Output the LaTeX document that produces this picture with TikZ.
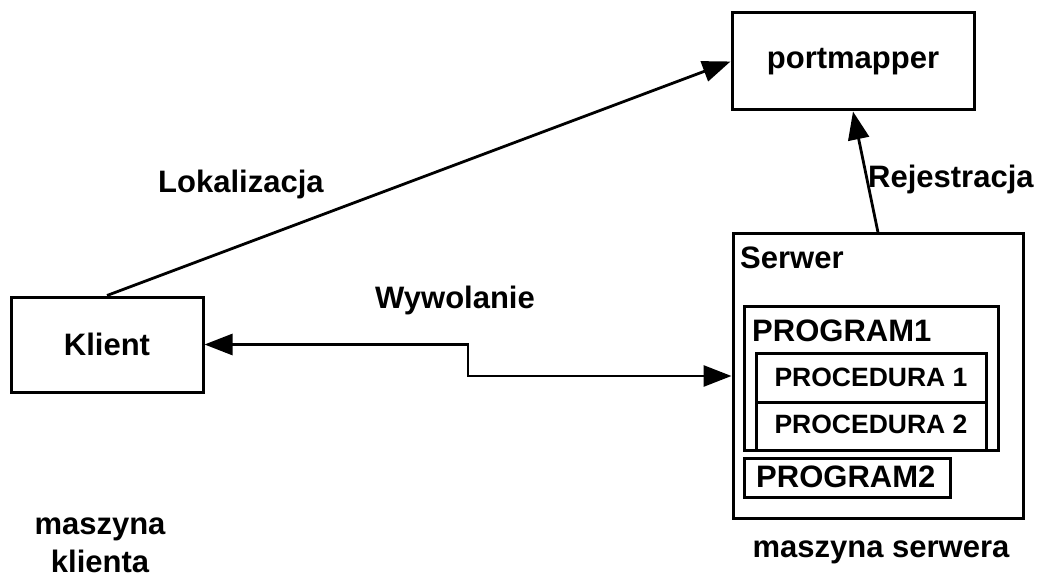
\documentclass[tikz,border=0pt]{standalone}
\usepackage{fontspec}
\setmainfont{Liberation Sans}
\usetikzlibrary{arrows.meta}
\begin{document}
\begin{tikzpicture}[x=1pt,y=-1pt,
  every node/.style={font=\fontsize{31}{38}\selectfont\bfseries, inner sep=0pt},
  box/.style={draw, line width=3pt, rectangle},
  thin box/.style={draw, line width=3pt, rectangle},
  conn/.style={line width=2.8pt, -{Triangle[length=28pt,width=21pt]}},
  both/.style={line width=2.8pt, {Triangle[length=28pt,width=21pt]}-{Triangle[length=28pt,width=21pt]}},
  small/.style={font=\fontsize{26.5}{30}\selectfont\bfseries}]
\useasboundingbox (0,0) rectangle (1039,580);

% portmapper and client
\node[box, minimum width=242pt, minimum height=97pt] (pm) at (853,61.5) {portmapper};
\node[box, minimum width=192pt, minimum height=95pt] (klient) at (107,344.5) {Klient};

% server machine
\node[box, minimum width=290pt, minimum height=284pt] (srv) at (878,376) {};
\node[anchor=base west] (srvlbl) at (740,269) {Serwer};

\node[thin box, minimum width=254pt, minimum height=144pt] (p1) at (871,378) {};
\node[anchor=base west] (p1lbl) at (752,341) {PROGRAM1};

% procedures, sharing the program's bottom edge
\node[thin box, minimum width=230pt, minimum height=49pt] (proc1) at (871,377.5) {};
\node[thin box, minimum width=230pt, minimum height=48pt] (proc2) at (871,426) {};
\node[small, anchor=base] (proc1lbl) at (871,386) {PROCEDURA 1};
\node[small, anchor=base] (proc2lbl) at (871,433) {PROCEDURA 2};

\node[thin box, minimum width=206pt, minimum height=39pt] (p2) at (847,477.5) {};
\node[anchor=base west] (p2lbl) at (756,487) {PROGRAM2};

% connectors
\draw[conn] (klient.north) -- (pm.west);
\draw[conn] (srv.north) -- (pm.south);
\coordinate (bend) at (468,0);
\draw[both] (klient.east) -- (klient.east -| bend) |- (srv.west);

% labels
\node[anchor=base west] (lok) at (158,193) {Lokalizacja};
\node[anchor=base west] (wyw) at (375,308) {Wywolanie};
\node[anchor=base west] (rej) at (868,188) {Rejestracja};
\node[align=center, anchor=base] (mk) at (100,572) {maszyna\\klienta};
\node[anchor=base] (ms) at (881,557) {maszyna serwera};
\end{tikzpicture}
\end{document}
